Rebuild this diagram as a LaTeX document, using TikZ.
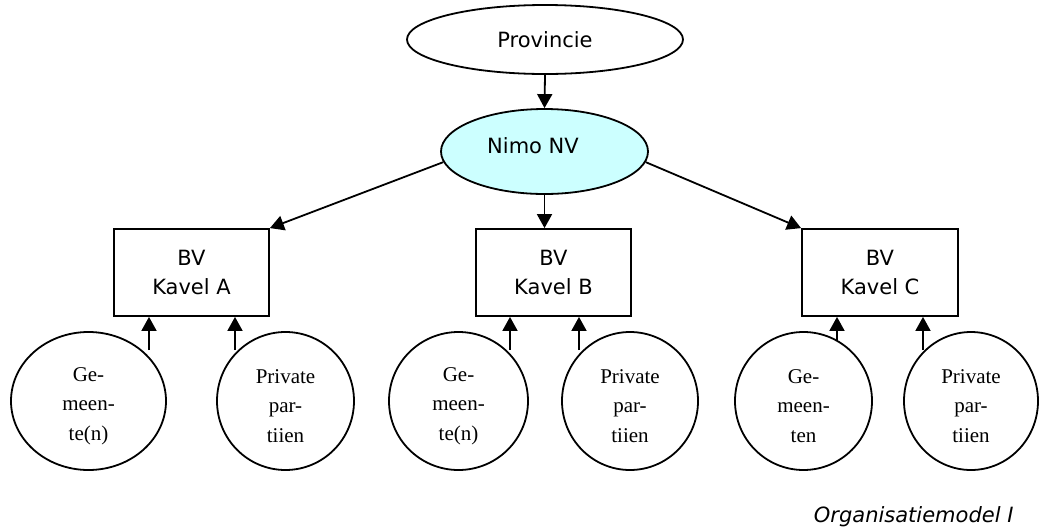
\documentclass[tikz,border=0pt]{standalone}
\usepackage{fontspec}
\setmainfont{DejaVu Sans}
\newfontfamily\serifc{Liberation Serif}
\usetikzlibrary{arrows.meta,shapes.geometric}
\definecolor{nimofill}{HTML}{CCFFFF}
\begin{document}
\begin{tikzpicture}[x=1pt,y=-1pt,
  every node/.style={font=\fontsize{21}{29}\selectfont},
  oval/.style={draw,line width=1.8pt,ellipse,inner sep=0pt},
  bvbox/.style={draw,line width=1.8pt,rectangle,inner sep=0pt,minimum width=155pt,minimum height=87pt,align=center},
  party/.style={draw,line width=1.8pt,ellipse,inner sep=0pt,minimum height=138pt},
  ptext/.style={align=center,yshift=-5pt,font=\serifc\fontsize{21}{29.5}\selectfont},
  arr/.style={line width=1.8pt,-{Triangle[length=14pt,width=15pt]}}]
\useasboundingbox (0,0) rectangle (1039,528);
\node[oval,minimum width=276pt,minimum height=69pt] (prov) at (545,39.5) {Provincie};
\node[oval,fill=nimofill,minimum width=207pt,minimum height=85pt] (nimo) at (544.5,151.5) {};
\node (nimotxt) at (533,146) {Nimo NV};
\node[bvbox] (bA) at (191.5,272.5) {BV\\Kavel A};
\node[bvbox] (bB) at (553.5,272.5) {BV\\Kavel B};
\node[bvbox,minimum width=156pt] (bC) at (880,272.5) {BV\\Kavel C};
\node[party,minimum width=155pt,label={[ptext]center:Ge-\\meen-\\te(n)}] (gA) at (88.5,401) {};
\node[party,minimum width=137pt,label={[ptext]center:Private\\par-\\tiien}] (pA) at (285.5,401) {};
\node[party,minimum width=139pt,label={[ptext]center:Ge-\\meen-\\te(n)}] (gB) at (458.5,401) {};
\node[party,minimum width=136pt,label={[ptext]center:Private\\par-\\tiien}] (pB) at (630,401) {};
\node[party,minimum width=137pt,label={[ptext]center:Ge-\\meen-\\ten}] (gC) at (803.5,401) {};
\node[party,minimum width=134pt,label={[ptext]center:Private\\par-\\tiien}] (pC) at (971,401) {};
\node[anchor=base east,font=\itshape\fontsize{21}{25}\selectfont] (cap) at (1017,522) {Organisatiemodel I};
\draw[arr] (prov.south) -- (nimo.north);
\draw[arr] (nimo.south) -- (nimo.south |- bB.north);
\draw[arr] (nimo.186) -- (bA.north east);
\draw[arr] (nimo.-6) -- (bC.north west);
\coordinate (sA1) at (149,350);
\coordinate (sA2) at (235,350);
\coordinate (sB1) at (510,350);
\coordinate (sB2) at (579,350);
\coordinate (sC1) at (837,340);
\coordinate (sC2) at (923,350);
\foreach \s/\b in {sA1/bA,sA2/bA,sB1/bB,sB2/bB,sC1/bC,sC2/bC}
  \draw[arr] (\s) -- (\s |- \b.south);
\end{tikzpicture}
\end{document}
